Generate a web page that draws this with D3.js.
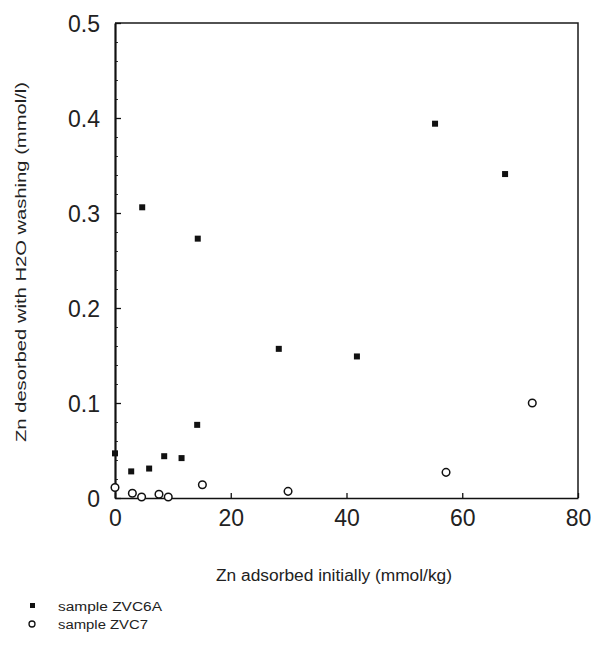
<!DOCTYPE html>
<html>
<head>
<meta charset="utf-8">
<script src="https://cdn.jsdelivr.net/npm/d3@7"></script>
<style>
    body { margin: 0; background: #fff; }
    text { font-family: "Liberation Sans", Arial, sans-serif; fill: #222; }
</style>
</head>
<body>
<svg id="chart" width="591" height="646"></svg>
<script>
// data
var zvc6aX = [0, 2.8, 4.7, 5.9, 8.5, 11.5, 14.3, 14.2, 28.3, 41.8, 55.3, 67.4];
var zvc6aY = [0.047, 0.028, 0.306, 0.031, 0.044, 0.042, 0.273, 0.077, 0.157, 0.149, 0.394, 0.341];

var zvc7X = [0, 3, 4.6, 7.6, 9.2, 15.1, 29.9, 57.2, 72.1];
var zvc7Y = [0.011, 0.005, 0.001, 0.004, 0.001, 0.014, 0.007, 0.027, 0.1];

var xTicks = [0, 20, 40, 60, 80];
var yTicks = [0, 0.1, 0.2, 0.3, 0.4, 0.5];
var yTickLabels = ["0", "0.1", "0.2", "0.3", "0.4", "0.5"];

var xTitle = "Zn adsorbed initially (mmol/kg)";
var yTitle = "Zn desorbed with H2O washing (mmol/l)";
var legendLabels = ["sample ZVC6A", "sample ZVC7"];

var svg = d3.select('#chart');

var x = d3.scaleLinear().domain([0, 80]).range([115, 578]),
    y = d3.scaleLinear().domain([0, 0.5]).range([498, 23]);

// frame (top + right)
svg.append('path')
    .attr('d', 'M' + x(0) + ',' + y(0.5) + 'H' + x(80) + 'V' + y(0))
    .attr('fill', 'none')
    .attr('stroke', '#1a1a1a')
    .attr('stroke-width', 1.5);

// minor y ticks
var minorY = d3.range(0, 0.5001, 0.02);
svg.append('g')
    .attr('transform', 'translate(' + x(0) + ',0)')
    .call(d3.axisLeft(y).tickValues(minorY).tickSize(-3).tickFormat(''))
    .call(function(g) { g.select('.domain').remove(); })
    .selectAll('line').attr('stroke', '#333');

// y axis, ticks pointing in
var yAxis = svg.append('g')
    .attr('transform', 'translate(' + x(0) + ',0)')
    .call(d3.axisLeft(y).tickValues(yTicks).tickSize(-6).tickSizeOuter(0).tickPadding(15)
        .tickFormat(function(d, i) { return yTickLabels[i]; }));
yAxis.select('.domain').attr('stroke', '#111').attr('stroke-width', 2.2);
yAxis.selectAll('line').attr('stroke', '#111').attr('stroke-width', 1.3);
yAxis.selectAll('text').style('font-size', '23px').attr('fill', '#222').attr('dy', '0.36em');

// x axis, ticks pointing up
var xAxis = svg.append('g')
    .attr('transform', 'translate(0,' + y(0) + ')')
    .call(d3.axisBottom(x).tickValues(xTicks).tickSize(-5).tickSizeOuter(0).tickPadding(12)
        .tickFormat(d3.format('d')));
xAxis.select('.domain').attr('stroke', '#111').attr('stroke-width', 1.7);
xAxis.selectAll('line').attr('stroke', '#111').attr('stroke-width', 1.3);
xAxis.selectAll('text').style('font-size', '23px').attr('fill', '#222');

// axis titles
svg.append('text')
    .attr('x', 216).attr('y', 581)
    .attr('textLength', 236).attr('lengthAdjust', 'spacingAndGlyphs')
    .style('font-size', '16px')
    .text(xTitle);

svg.append('text')
    .attr('transform', 'translate(26,442) rotate(-90)')
    .attr('textLength', 360).attr('lengthAdjust', 'spacingAndGlyphs')
    .style('font-size', '15.5px')
    .text(yTitle);

// points
svg.append('g').selectAll('rect')
    .data(zvc6aX.map(function(v, i) { return [v, zvc6aY[i]]; }))
    .enter().append('rect')
    .attr('x', function(d) { return x(d[0]) - 3; })
    .attr('y', function(d) { return y(d[1]) - 3; })
    .attr('width', 6).attr('height', 6)
    .attr('fill', '#111');

svg.append('g').selectAll('circle')
    .data(zvc7X.map(function(v, i) { return [v, zvc7Y[i]]; }))
    .enter().append('circle')
    .attr('cx', function(d) { return x(d[0]); })
    .attr('cy', function(d) { return y(d[1]); })
    .attr('r', 3.8)
    .attr('fill', '#fff')
    .attr('stroke', '#111')
    .attr('stroke-width', 1.5);

// legend
var lg = svg.append('g');
lg.append('rect').attr('x', 30).attr('y', 603).attr('width', 5).attr('height', 5).attr('fill', '#111');
lg.append('circle').attr('cx', 32).attr('cy', 624).attr('r', 3).attr('fill', 'none')
    .attr('stroke', '#111').attr('stroke-width', 1.3);
lg.append('text').attr('x', 58).attr('y', 611)
    .attr('textLength', 104).attr('lengthAdjust', 'spacingAndGlyphs')
    .style('font-size', '12px').text(legendLabels[0]);
lg.append('text').attr('x', 58).attr('y', 629)
    .attr('textLength', 90).attr('lengthAdjust', 'spacingAndGlyphs')
    .style('font-size', '12px').text(legendLabels[1]);
</script>
</body>
</html>
